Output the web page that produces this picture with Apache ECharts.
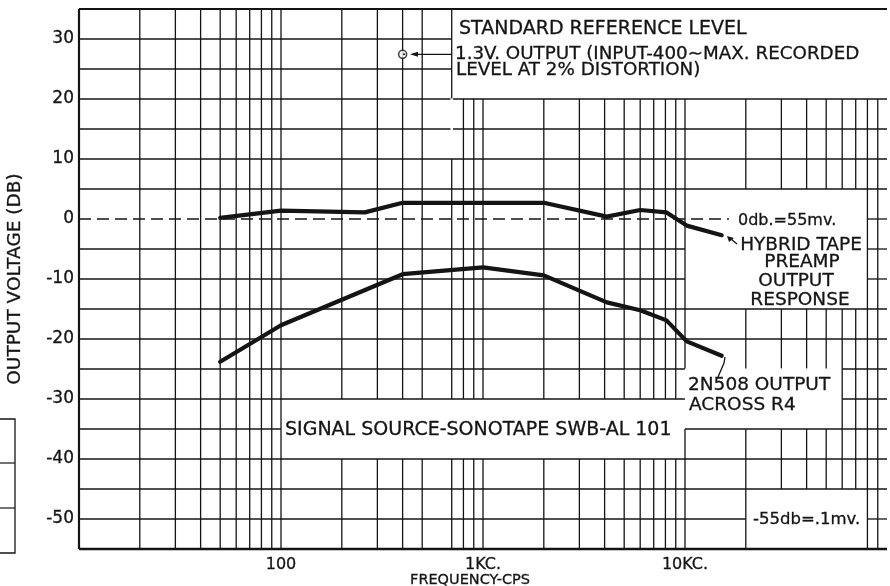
<!DOCTYPE html>
<html><head><meta charset="utf-8">
<script src="https://cdn.jsdelivr.net/npm/echarts@6/dist/echarts.min.js"></script>
<style>html,body{margin:0;padding:0;background:#fff}#c{width:890px;height:586px}</style>
</head><body><div id="c"></div>
<script>
// ---- data ----
const freqHybrid = [50, 100, 260, 400, 2000, 4100, 6000, 8100, 10200, 15200];
const dbHybrid   = [0.2, 1.4, 1.1, 2.7, 2.7, 0.4, 1.5, 1.1, -1.1, -2.7];
const freq2N508  = [50, 100, 400, 1000, 2000, 4100, 6000, 8100, 10200, 15200];
const db2N508    = [-23.8, -17.7, -9.2, -8.05, -9.4, -13.9, -15.2, -16.9, -20.4, -22.8];
const refFreq = [400];
const refDb   = [27.45];
const xTickValues = [100, 1000, 10000];
const xTickLabels = ['100', '1KC.', '10KC.'];
const yTickValues = [30, 20, 10, 0, -10, -20, -30, -40, -50];
const yTickLabels = ['30', '20', '10', '0', '-10', '-20', '-30', '-40', '-50'];
const gridMultipliers = [1, 2, 3, 4, 5, 6, 7, 8, 9];
const gridDecades = [10, 100, 1000, 10000];
const missingVertical = [600];   // the 600 c/s line is not printed in the reference
const gridDb = [30, 25, 20, 15, 10, 5, -5, -10, -15, -20, -25, -30, -35, -40, -45, -50];
// white label boxes interrupting the grid: [f0, f1, db0, db1]
const boxes = [
  [700, 1e6, 20, 40],
  [10000, 80000, -15, 5],
  [9990, 60000, -35, -24.9],
  [100, 10000, -40, -30],
  [20000, 80000, -55.1, -45],
  [690, 710, 10, 20.1]
];
const F0 = 10, F1 = 100000, D0 = -55, D1 = 35;

function subtract(segs, lo, hi) {
  const out = [];
  segs.forEach(([a, b]) => {
    if (hi <= a || lo >= b) { out.push([a, b]); return; }
    if (lo > a) out.push([a, lo]);
    if (hi < b) out.push([hi, b]);
  });
  return out;
}
const lines = [];
gridDecades.forEach(dec => gridMultipliers.forEach(m => {
  const f = dec * m;
  if (f === F0 || missingVertical.indexOf(f) >= 0) return;
  let segs = [[D0, D1]];
  boxes.forEach(([f0, f1, d0, d1]) => { if (f > f0 && f < f1) segs = subtract(segs, d0, d1); });
  segs.forEach(([a, b]) => lines.push([f, a, f, b, 1.3, 0]));
}));
gridDb.forEach(d => {
  let segs = [[Math.log10(F0), Math.log10(F1)]];
  boxes.forEach(([f0, f1, d0, d1]) => { if (d > d0 && d < d1) segs = subtract(segs, Math.log10(f0), Math.log10(f1)); });
  segs.forEach(([a, b]) => lines.push([Math.pow(10, a), d, Math.pow(10, b), d, 1.3, 0]));
});
// 0 dB reference line (dashed), frame
lines.push([F0, 0, 16500, 0, 1.4, 1]);
lines.push([80000, 0, F1, 0, 1.3, 0]);
lines.push([F0, D0, F0, D1, 2.2, 0]);
lines.push([F0, D1, F1, D1, 2.2, 0]);
lines.push([F0, D0, F1, D0, 2.6, 0]);

const FONT = '"DejaVu Sans", sans-serif';
const INK = '#141414';
const chart = echarts.init(document.getElementById('c'));
function txt(text, x, y, size, align, rot) {
  return { type: 'text', x: x, y: y, rotation: rot || 0, z: 50,
    style: { text: text, font: size + 'px ' + FONT, fill: INK, stroke: INK, lineWidth: 0.3,
      align: align || 'left', verticalAlign: 'middle' } };
}
chart.setOption({
  animation: false,
  backgroundColor: '#fff',
  grid: { left: 79, top: 9, width: 812, height: 540, containLabel: false },
  xAxis: {
    type: 'log', logBase: 10, min: F0, max: F1,
    axisLine: { show: false }, axisTick: { show: false }, splitLine: { show: false },
    axisLabel: {
      margin: 8, fontSize: 16, fontFamily: 'DejaVu Sans', color: INK,
      textBorderColor: INK, textBorderWidth: 0.3,
      formatter: v => { const i = xTickValues.findIndex(t => Math.abs(Math.log10(t) - Math.log10(v)) < 1e-6); return i >= 0 ? xTickLabels[i] : ''; }
    }
  },
  yAxis: {
    type: 'value', min: D0, max: D1, interval: 5,
    axisLine: { show: false }, axisTick: { show: false }, splitLine: { show: false },
    axisLabel: {
      margin: 5, fontSize: 17, fontFamily: 'DejaVu Sans', color: INK,
      textBorderColor: INK, textBorderWidth: 0.3,
      formatter: v => { const i = yTickValues.indexOf(v); return i >= 0 ? yTickLabels[i] : ''; }
    }
  },
  series: [
    {
      type: 'custom', z: 1, clip: false,
      encode: { x: [0, 2], y: [1, 3] },
      data: lines,
      renderItem: (params, api) => {
        const p0 = api.coord([api.value(0), api.value(1)]);
        const p1 = api.coord([api.value(2), api.value(3)]);
        return { type: 'line', shape: { x1: p0[0], y1: p0[1], x2: p1[0], y2: p1[1] },
          style: { stroke: INK, lineWidth: api.value(4), lineDash: api.value(5) ? [12, 6] : null } };
      }
    },
    {
      type: 'line', z: 5, symbol: 'none', smooth: false,
      data: freqHybrid.map((f, i) => [f, dbHybrid[i]]),
      lineStyle: { color: INK, width: 4.2, cap: 'round', join: 'round' }
    },
    {
      type: 'line', z: 5, symbol: 'none', smooth: false,
      data: freq2N508.map((f, i) => [f, db2N508[i]]),
      lineStyle: { color: INK, width: 4.2, cap: 'round', join: 'round' }
    },
    {
      type: 'scatter', z: 6, symbol: 'circle', symbolSize: 8,
      data: refFreq.map((f, i) => [f, refDb[i]]),
      itemStyle: { color: '#fff', borderColor: INK, borderWidth: 1.6 }
    }
  ],
  graphic: [
    txt('STANDARD REFERENCE LEVEL', 459, 29, 19),
    txt('1.3V. OUTPUT (INPUT-400\u223CMAX. RECORDED', 455, 54.5, 18.3),
    txt('LEVEL AT 2% DISTORTION)', 456, 70.5, 18.3),
    txt('0db.=55mv.', 738, 221, 16),
    txt('HYBRID TAPE', 801, 245, 18.5, 'center'),
    txt('PREAMP', 802, 262, 18.5, 'center'),
    txt('OUTPUT', 796, 281, 18.5, 'center'),
    txt('RESPONSE', 800, 300, 18.5, 'center'),
    txt('2N508 OUTPUT', 688, 385, 18.5),
    txt('ACROSS R4', 689, 405, 18.5),
    txt('SIGNAL SOURCE-SONOTAPE SWB-AL 101', 285, 430, 19),
    txt('-55db=.1mv.', 753, 520, 16.5),
    txt('FREQUENCY-CPS', 470, 580, 14.5, 'center'),
    txt('OUTPUT VOLTAGE (DB)', 15, 279, 18.5, 'center', Math.PI / 2),
    // leaders / arrows
    { type: 'line', z: 40, shape: { x1: 452, y1: 54.3, x2: 415, y2: 54.3 }, style: { stroke: INK, lineWidth: 1.3 } },
    { type: 'polygon', z: 40, shape: { points: [[410, 54.3], [418, 51.8], [418, 56.8]] }, style: { fill: INK } },
    { type: 'circle', z: 41, shape: { cx: 404, cy: 54.3, r: 1 }, style: { fill: INK } },
    { type: 'line', z: 40, shape: { x1: 737, y1: 244, x2: 731, y2: 239 }, style: { stroke: INK, lineWidth: 1.3 } },
    { type: 'polygon', z: 40, shape: { points: [[727, 236], [734, 238], [729, 242]] }, style: { fill: INK } },
    { type: 'polyline', z: 40, shape: { points: [[725, 357], [724, 363], [718, 377]] }, style: { stroke: INK, lineWidth: 1.3, fill: null } },
    // neighbouring page fragment at the left edge
    { type: 'polyline', z: 40, shape: { points: [[0, 419], [15, 419], [15, 553], [0, 553]] }, style: { stroke: INK, lineWidth: 1.3, fill: null } },
    { type: 'line', z: 40, shape: { x1: 0, y1: 463, x2: 15, y2: 463 }, style: { stroke: INK, lineWidth: 1.2 } },
    { type: 'line', z: 40, shape: { x1: 0, y1: 508, x2: 15, y2: 508 }, style: { stroke: INK, lineWidth: 1.2 } }
  ]
});
</script>
</body></html>
